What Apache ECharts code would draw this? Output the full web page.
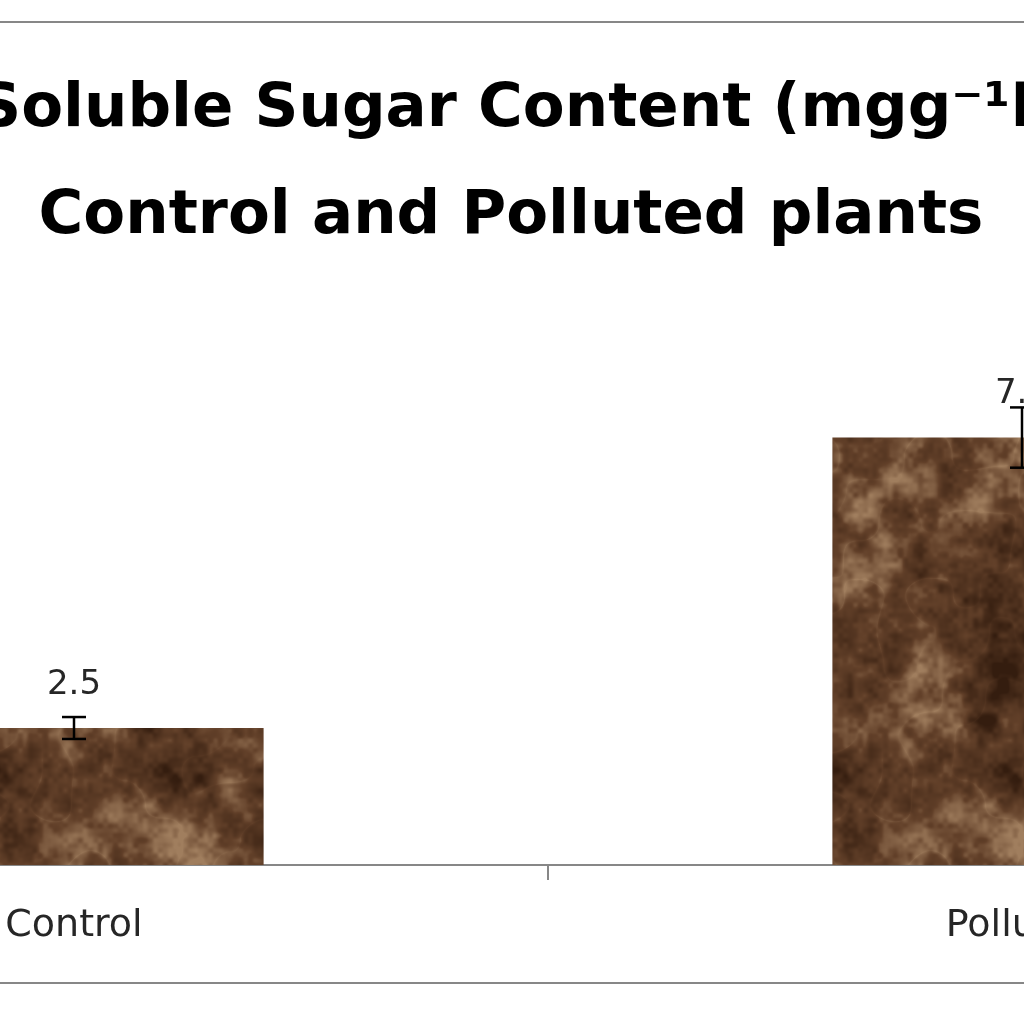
<!DOCTYPE html>
<html>
<head>
<meta charset="utf-8">
<script src="https://cdn.jsdelivr.net/npm/echarts@6/dist/echarts.min.js"></script>
<style>
html,body{margin:0;padding:0;background:#fff;overflow:hidden;}
#wrap{position:relative;width:1024px;height:1024px;overflow:hidden;}
#c{position:absolute;left:-400px;top:0;width:1896px;height:1024px;}
</style>
</head>
<body>
<div id="wrap"><div id="c"></div></div>
<script>
// ---- data ----
var categories = ['Control', 'Polluted'];
var values = [2.5, 7.8];
var errors = [0.2, 0.55];
var titleLines = ['Total Soluble Sugar Content (mgg\u207B\u00B9FW) in', 'Control and Polluted plants'];

// ---- bar texture (decorative only, seamless tile) ----
var TEX = 420;
function hash(ix, iy, s) {
  var n = (ix * 374761393 + iy * 668265263 + s * 982451653) | 0;
  n = Math.imul(n ^ (n >>> 13), 1274126177);
  n = n ^ (n >>> 16);
  return ((n >>> 0) % 10000) / 10000;
}
function smooth(t) { return t * t * (3 - 2 * t); }
function pnoise(x, y, cell, s) {
  var p = TEX / cell;
  var gx = x / cell, gy = y / cell;
  var ix = Math.floor(gx), iy = Math.floor(gy);
  var fx = smooth(gx - ix), fy = smooth(gy - iy);
  var x0 = ix % p, y0 = iy % p, x1 = (ix + 1) % p, y1 = (iy + 1) % p;
  var a = hash(x0, y0, s), b = hash(x1, y0, s), c = hash(x0, y1, s), d = hash(x1, y1, s);
  return (a + (b - a) * fx) * (1 - fy) + (c + (d - c) * fx) * fy;
}
function makeTexture() {
  var w = TEX, h = TEX;
  var cv = document.createElement('canvas');
  cv.width = w; cv.height = h;
  var ctx = cv.getContext('2d');
  var img = ctx.createImageData(w, h);
  var dark = [52, 29, 15], mid = [98, 64, 41], light = [160, 126, 94];
  for (var y = 0; y < h; y++) {
    for (var x = 0; x < w; x++) {
      var n = pnoise(x, y, 70, 1) * 0.35 + pnoise(x, y, 30, 2) * 0.3 + pnoise(x, y, 12, 3) * 0.22 + pnoise(x, y, 5, 5) * 0.13;
      var r = pnoise(x, y, 35, 4);
      var ridge = Math.pow(1 - Math.abs(r * 2 - 1), 8);
      var v = (n - 0.5) * 1.7 + 0.47 + ridge * 0.15;
      if (v < 0) v = 0; if (v > 1) v = 1;
      var col;
      if (v < 0.55) { var t = v / 0.55; col = [dark[0] + (mid[0] - dark[0]) * t, dark[1] + (mid[1] - dark[1]) * t, dark[2] + (mid[2] - dark[2]) * t]; }
      else { var t2 = (v - 0.55) / 0.45; col = [mid[0] + (light[0] - mid[0]) * t2, mid[1] + (light[1] - mid[1]) * t2, mid[2] + (light[2] - mid[2]) * t2]; }
      var i = (y * w + x) * 4;
      img.data[i] = col[0]; img.data[i + 1] = col[1]; img.data[i + 2] = col[2]; img.data[i + 3] = 255;
    }
  }
  ctx.putImageData(img, 0, 0);
  return cv;
}

var chart = echarts.init(document.getElementById('c'), null, { renderer: 'canvas' });

var errData = categories.map(function (c, i) { return [i, values[i] - errors[i], values[i] + errors[i]]; });

var option = {
  backgroundColor: '#ffffff',
  animation: false,
  title: {
    text: titleLines.join('\n'),
    left: 911,
    textAlign: 'center',
    top: 57,
    padding: 0,
    textStyle: { fontFamily: 'DejaVu Sans', fontWeight: 'bold', fontSize: 61, lineHeight: 107, color: '#000000' }
  },
  graphic: [{
    type: 'rect',
    silent: true,
    shape: { x: 370, y: 22, width: 1150, height: 961 },
    style: { fill: 'none', stroke: '#878787', lineWidth: 2 }
  }],
  grid: { left: 0, right: 0, top: 317, bottom: 159, containLabel: false },
  xAxis: {
    type: 'category',
    data: categories,
    axisLine: { lineStyle: { color: '#878787', width: 2 } },
    axisTick: { show: true, length: 15, lineStyle: { color: '#878787', width: 2 } },
    axisLabel: { fontFamily: 'DejaVu Sans', fontSize: 38, color: '#262626', margin: 42 }
  },
  yAxis: {
    type: 'value', min: 0, max: 10,
    show: false
  },
  series: [{
    type: 'bar',
    data: values,
    barWidth: '40%',
    itemStyle: { color: { image: makeTexture(), repeat: 'repeat' } },
    label: { show: true, position: 'top', distance: 26, fontFamily: 'DejaVu Sans', fontSize: 34, color: '#262626' },
    z: 2
  }, {
    type: 'custom',
    data: errData,
    z: 5,
    renderItem: function (params, api) {
      var x = api.value(0);
      var lo = api.coord([x, api.value(1)]);
      var hi = api.coord([x, api.value(2)]);
      var hw = 12;
      var st = { stroke: '#000000', lineWidth: 2.5 };
      return {
        type: 'group',
        children: [
          { type: 'line', shape: { x1: lo[0], y1: lo[1], x2: hi[0], y2: hi[1] }, style: st },
          { type: 'line', shape: { x1: hi[0] - hw, y1: hi[1], x2: hi[0] + hw, y2: hi[1] }, style: st },
          { type: 'line', shape: { x1: lo[0] - hw, y1: lo[1], x2: lo[0] + hw, y2: lo[1] }, style: st }
        ]
      };
    }
  }]
};
chart.setOption(option);
</script>
</body>
</html>
